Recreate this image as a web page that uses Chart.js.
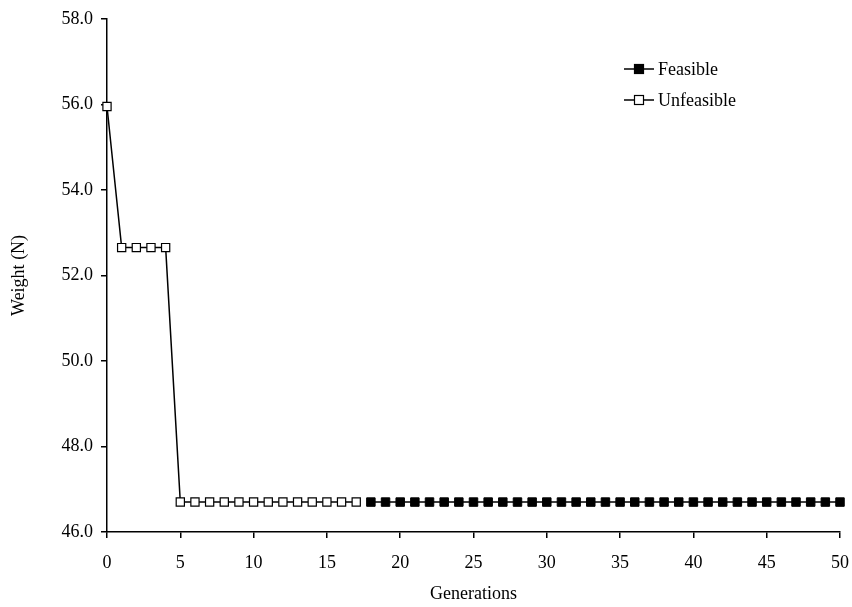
<!DOCTYPE html>
<html>
<head>
<meta charset="utf-8">
<script src="https://cdn.jsdelivr.net/npm/chart.js@4/dist/chart.umd.min.js"></script>
<style>
  html, body { margin: 0; padding: 0; background: #fff; }
  #wrap { width: 852px; height: 607px; }
</style>
</head>
<body>
<div id="wrap"><canvas id="chart"></canvas></div>
<script>
// Generations 0-17: best design still unfeasible
const unfeasibleGen = [0, 1, 2, 3, 4, 5, 6, 7, 8, 9, 10, 11, 12, 13, 14, 15, 16, 17]
const unfeasibleWeight = [
  55.95, 52.65, 52.65, 52.65, 52.65, 46.7, 46.7, 46.7, 46.7, 46.7,
  46.7, 46.7, 46.7, 46.7, 46.7, 46.7, 46.7, 46.7,
]

// Generations 18-50: feasible
const feasibleGen = [
  18, 19, 20, 21, 22, 23, 24, 25, 26, 27, 28, 29, 30, 31, 32, 33, 34,
  35, 36, 37, 38, 39, 40, 41, 42, 43, 44, 45, 46, 47, 48, 49, 50,
]
const feasibleWeight = [
  46.7, 46.7, 46.7, 46.7, 46.7, 46.7, 46.7, 46.7, 46.7, 46.7, 46.7,
  46.7, 46.7, 46.7, 46.7, 46.7, 46.7, 46.7, 46.7, 46.7, 46.7, 46.7,
  46.7, 46.7, 46.7, 46.7, 46.7, 46.7, 46.7, 46.7, 46.7, 46.7, 46.7,
]

const xTicks = [0, 5, 10, 15, 20, 25, 30, 35, 40, 45, 50]
const yTicks = [46, 48, 50, 52, 54, 56, 58]

const FONT = 'Liberation Serif, "Times New Roman", serif'
const FONT_SIZE = 18

/**
 * @param {number[]} xs
 * @param {number[]} ys
 */
const toPoints = (xs, ys) => xs.map((x, i) => ({ x, y: ys[i] }))

// draws the small line+marker legend inside the plot, top right
const inlineLegend = {
  id: 'inlineLegend',
  afterDatasetsDraw(chart) {
    const { ctx } = chart
    const x0 = 624
    const x1 = 654
    const rows = [69, 100]
    ctx.save()
    chart.data.datasets.forEach((ds, i) => {
      const y = rows[i]
      ctx.strokeStyle = '#000'
      ctx.lineWidth = 1.5
      ctx.beginPath()
      ctx.moveTo(x0, y)
      ctx.lineTo(x1, y)
      ctx.stroke()
      const cx = (x0 + x1) / 2
      const s = 4.5
      ctx.lineWidth = 1.2
      ctx.fillStyle = ds.pointBackgroundColor
      ctx.fillRect(cx - s, y - s, 2 * s, 2 * s)
      ctx.strokeRect(cx - s, y - s, 2 * s, 2 * s)
      ctx.fillStyle = '#000'
      ctx.font = `${FONT_SIZE}px ${FONT}`
      ctx.textBaseline = 'middle'
      ctx.fillText(ds.label, x1 + 4, y + 1)
    })
    ctx.restore()
  },
}

new Chart(document.getElementById('chart'), {
  type: 'line',
  data: {
    datasets: [
      {
        label: 'Feasible',
        data: toPoints(feasibleGen, feasibleWeight),
        borderColor: '#000',
        borderWidth: 1.5,
        pointStyle: 'rect',
        pointRadius: 6,
        pointBackgroundColor: '#000',
        pointBorderColor: '#000',
        pointBorderWidth: 1,
        tension: 0,
        clip: false,
      },
      {
        label: 'Unfeasible',
        data: toPoints(unfeasibleGen, unfeasibleWeight),
        borderColor: '#000',
        borderWidth: 1.5,
        pointStyle: 'rect',
        pointRadius: 5.8,
        pointBackgroundColor: '#fff',
        pointBorderColor: '#000',
        pointBorderWidth: 1.2,
        tension: 0,
        clip: false,
      },
    ],
  },
  options: {
    responsive: true,
    maintainAspectRatio: false,
    animation: false,
    layout: { padding: { left: 0, top: 16, right: 12, bottom: 0 } },
    font: { family: FONT, size: FONT_SIZE },
    scales: {
      x: {
        type: 'linear',
        min: 0,
        max: 50,
        afterFit: (scale) => {
          scale.height = 75
          scale.paddingLeft = 0
          scale.paddingRight = 0
        },
        afterBuildTicks: (scale) => { scale.ticks = xTicks.map((value) => ({ value })) },
        border: { color: '#000', width: 1.5 },
        grid: { display: true, drawOnChartArea: false, color: '#000', lineWidth: 1.5, tickLength: 6 },
        ticks: { color: '#000', padding: 14, font: { family: FONT, size: FONT_SIZE } },
        title: {
          display: true,
          text: 'Generations',
          color: '#000',
          padding: { top: 0, bottom: 2 },
          font: { family: FONT, size: FONT_SIZE },
        },
      },
      y: {
        min: 46,
        max: 58,
        afterFit: (scale) => { scale.width = 107 },
        afterBuildTicks: (scale) => { scale.ticks = yTicks.map((value) => ({ value })) },
        border: { color: '#000', width: 1.5 },
        grid: { display: true, drawOnChartArea: false, color: '#000', lineWidth: 1.5, tickLength: 6 },
        ticks: {
          color: '#000',
          padding: 8,
          font: { family: FONT, size: FONT_SIZE },
          callback: (value) => Number(value).toFixed(1),
        },
        title: {
          display: true,
          text: 'Weight (N)',
          color: '#000',
          padding: { top: 8, bottom: 0 },
          font: { family: FONT, size: FONT_SIZE },
        },
      },
    },
    plugins: {
      legend: { display: false },
      tooltip: { enabled: false },
    },
  },
  plugins: [inlineLegend],
})
</script>
</body>
</html>
